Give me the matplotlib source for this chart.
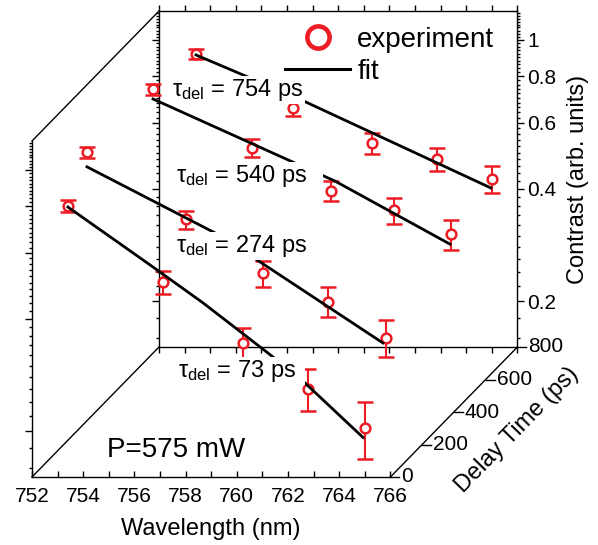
import numpy as np
import matplotlib
matplotlib.use('Agg')
import matplotlib.pyplot as plt
from matplotlib.lines import Line2D
from matplotlib.transforms import offset_copy
from matplotlib.ticker import FixedLocator, MultipleLocator, NullFormatter, FuncFormatter

plt.rcParams['font.family'] = ['Liberation Sans', 'DejaVu Sans']
plt.rcParams['mathtext.fontset'] = 'custom'
plt.rcParams['mathtext.rm'] = 'Liberation Sans'
plt.rcParams['mathtext.it'] = 'Liberation Sans:italic'

# ---- data ----
delays = [754, 540, 274, 73]

wl_754 = [753.73, 757.53, 760.59, 763.16, 765.28]
c_754 = [0.961, 0.689, 0.554, 0.503, 0.445]
err_754 = [0.03, 0.034, 0.036, 0.035, 0.036]
fit_wl_754 = [753.73, 757.60, 765.25]
fit_c_754 = [0.955, 0.737, 0.421]

wl_540 = [753.39, 757.23, 760.32, 762.80, 765.02]
c_540 = [0.957, 0.669, 0.512, 0.455, 0.392]
err_540 = [0.03, 0.036, 0.032, 0.036, 0.036]
fit_wl_540 = [753.38, 760.49, 764.98]
fit_c_540 = [0.902, 0.544, 0.369]

wl_274 = [752.44, 756.30, 759.34, 761.88, 764.12]
c_274 = [0.847, 0.561, 0.402, 0.338, 0.271]
err_274 = [0.031, 0.031, 0.032, 0.031, 0.030]
fit_wl_274 = [752.45, 757.45, 759.09, 764.01]
fit_c_274 = [0.775, 0.516, 0.437, 0.262]

wl_73 = [752.96, 756.68, 759.77, 762.34, 764.55]
c_73 = [0.745, 0.466, 0.321, 0.242, 0.190]
err_73 = [0.028, 0.032, 0.031, 0.031, 0.033]
fit_wl_73 = [752.95, 756.16, 758.23, 760.77, 762.09, 764.48]
fit_c_73 = [0.740, 0.518, 0.410, 0.301, 0.255, 0.179]

wl_ticks = np.arange(752, 767, 2)
c_ticks = [0.2, 0.4, 0.6, 0.8, 1.0]
c_minor = np.arange(0.16, 1.2, 0.02)
delay_ticks = [0, 200, 400, 600, 800]

RED = '#ed1c24'

# ---- geometry (pixels) ----
W, H = 598, 545
FX0, FY0 = 32, 68          # front face origin
AW, AH = 358.4, 336        # face size
DX, DY = 127, 130          # shift of the 800 ps plane
DMAX = 800

fig = plt.figure(figsize=(W / 100, H / 100), dpi=100)
ax_b = fig.add_axes([(FX0 + DX) / W, (FY0 + DY) / H, AW / W, AH / H])
ax_f = fig.add_axes([FX0 / W, FY0 / H, AW / W, AH / H])

for ax in (ax_b, ax_f):
    ax.set_yscale('log')
    ax.set_xlim(752, 766)
    ax.set_ylim(0.151, 1.1955)
    ax.patch.set_visible(False)
    ax.xaxis.set_major_locator(FixedLocator(wl_ticks))
    ax.xaxis.set_minor_locator(MultipleLocator(1))
    ax.yaxis.set_major_locator(FixedLocator(c_ticks))
    ax.yaxis.set_minor_locator(FixedLocator(c_minor))
    ax.yaxis.set_major_formatter(FuncFormatter(lambda v, p: f'{v:g}'))
    ax.yaxis.set_minor_formatter(NullFormatter())
    for s in ax.spines.values():
        s.set_linewidth(1.0)

# back plane
ax_b.tick_params(which='both', direction='out', top=True, bottom=True, left=True, right=True,
                 labelbottom=False, labelleft=False, labelright=True, labelsize=15, width=1, pad=2)
ax_b.tick_params(axis='x', which='both', length=4)
ax_b.tick_params(axis='y', which='major', length=5)
ax_b.tick_params(axis='y', which='minor', length=2.5)
ax_b.yaxis.set_label_position('right')
ax_b.set_ylabel('Contrast (arb. units)', fontsize=17, labelpad=8)

# front plane
ax_f.spines['top'].set_visible(False)
ax_f.spines['right'].set_visible(False)
ax_f.tick_params(axis='x', which='both', direction='in', length=4, width=1, top=False,
                 labelsize=15, pad=7)
ax_f.tick_params(axis='y', which='both', direction='out', left=True, right=False,
                 labelleft=False, width=1)
ax_f.tick_params(axis='y', which='major', length=5)
ax_f.tick_params(axis='y', which='minor', length=2.5)
ax_f.set_xlabel('Wavelength (nm)', fontsize=17, labelpad=9)

ymin, ymax = ax_f.get_ylim()


def plane(d):
    return offset_copy(ax_f.transData, fig=fig, x=DX * d / DMAX, y=DY * d / DMAX, units='dots')


def proj(wl, c, d):
    x, y = ax_f.transData.transform((wl, c))
    return (x + DX * d / DMAX) / W, (y + DY * d / DMAX) / H


series = [
    (wl_754, c_754, err_754, fit_wl_754, fit_c_754),
    (wl_540, c_540, err_540, fit_wl_540, fit_c_540),
    (wl_274, c_274, err_274, fit_wl_274, fit_c_274),
    (wl_73, c_73, err_73, fit_wl_73, fit_c_73),
]

for d, (wl, c, err, fwl, fc) in zip(delays, series):
    tr = plane(d)
    eb = ax_f.errorbar(wl, c, yerr=err, fmt='o', ms=7, mew=1.8, mfc='white', mec=RED,
                       ecolor=RED, elinewidth=1.5, capsize=6, capthick=1.5,
                       transform=tr, zorder=3)
    eb.lines[0].set_clip_on(False)
    for a in list(eb.lines[1]) + list(eb.lines[2]):
        a.set_clip_on(False)
    ax_f.plot(fwl, fc, color='black', lw=2, transform=tr, zorder=4, clip_on=False)

# box edges joining front and back planes
for wl, c in [(752, ymin), (752, ymax)]:
    x0, y0 = proj(wl, c, 0)
    x1, y1 = proj(wl, c, DMAX)
    fig.add_artist(Line2D([x0, x1], [y0, y1], color='black', lw=1.0))

# delay axis
x0, y0 = proj(766, ymin, 0)
x1, y1 = proj(766, ymin, DMAX)
fig.add_artist(Line2D([x0, x1], [y0, y1], color='black', lw=1.0))
for d in delay_ticks:
    x, y = proj(766, ymin, d)
    fig.add_artist(Line2D([x, x + 9 / W], [y, y], color='black', lw=1.0))
    fig.text(x + 11 / W, y, f'{d}', fontsize=15, ha='left', va='center')
xm, ym = proj(766, ymin, DMAX / 2)
fig.text(xm + 63 / W, ym - 18 / H, 'Delay Time (ps)', fontsize=17,
         rotation=np.degrees(np.arctan2(DY, DX)), rotation_mode='anchor', ha='center', va='center')

# delay labels
box = dict(facecolor='white', edgecolor='none', pad=1)
labels = [(172, 96, '754 ps'), (176, 182, '540 ps   '), (176, 252, '274 ps'), (178, 377, '73 ps  ')]
for x, y, s in labels:
    fig.text(x / W, 1 - y / H, r'$\mathregular{τ_{del}}$ = ' + s, fontsize=17,
             ha='left', va='baseline', bbox=box, zorder=10)

fig.text(107 / W, 1 - 457 / H, 'P=575 mW', fontsize=20, ha='left', va='baseline')

handles = [Line2D([], [], ls='none', marker='o', ms=16, mew=3.3, mfc='none', mec=RED),
           Line2D([], [], color='black', lw=2.2)]
fig.legend(handles, ['experiment', 'fit'], loc='upper left', bbox_to_anchor=(285 / W, 1 - 27 / H),
           frameon=False, fontsize=20, handlelength=2.35, handletextpad=0.25,
           labelspacing=0.2, borderpad=0, borderaxespad=0)

fig.savefig('out.png', dpi=100)
